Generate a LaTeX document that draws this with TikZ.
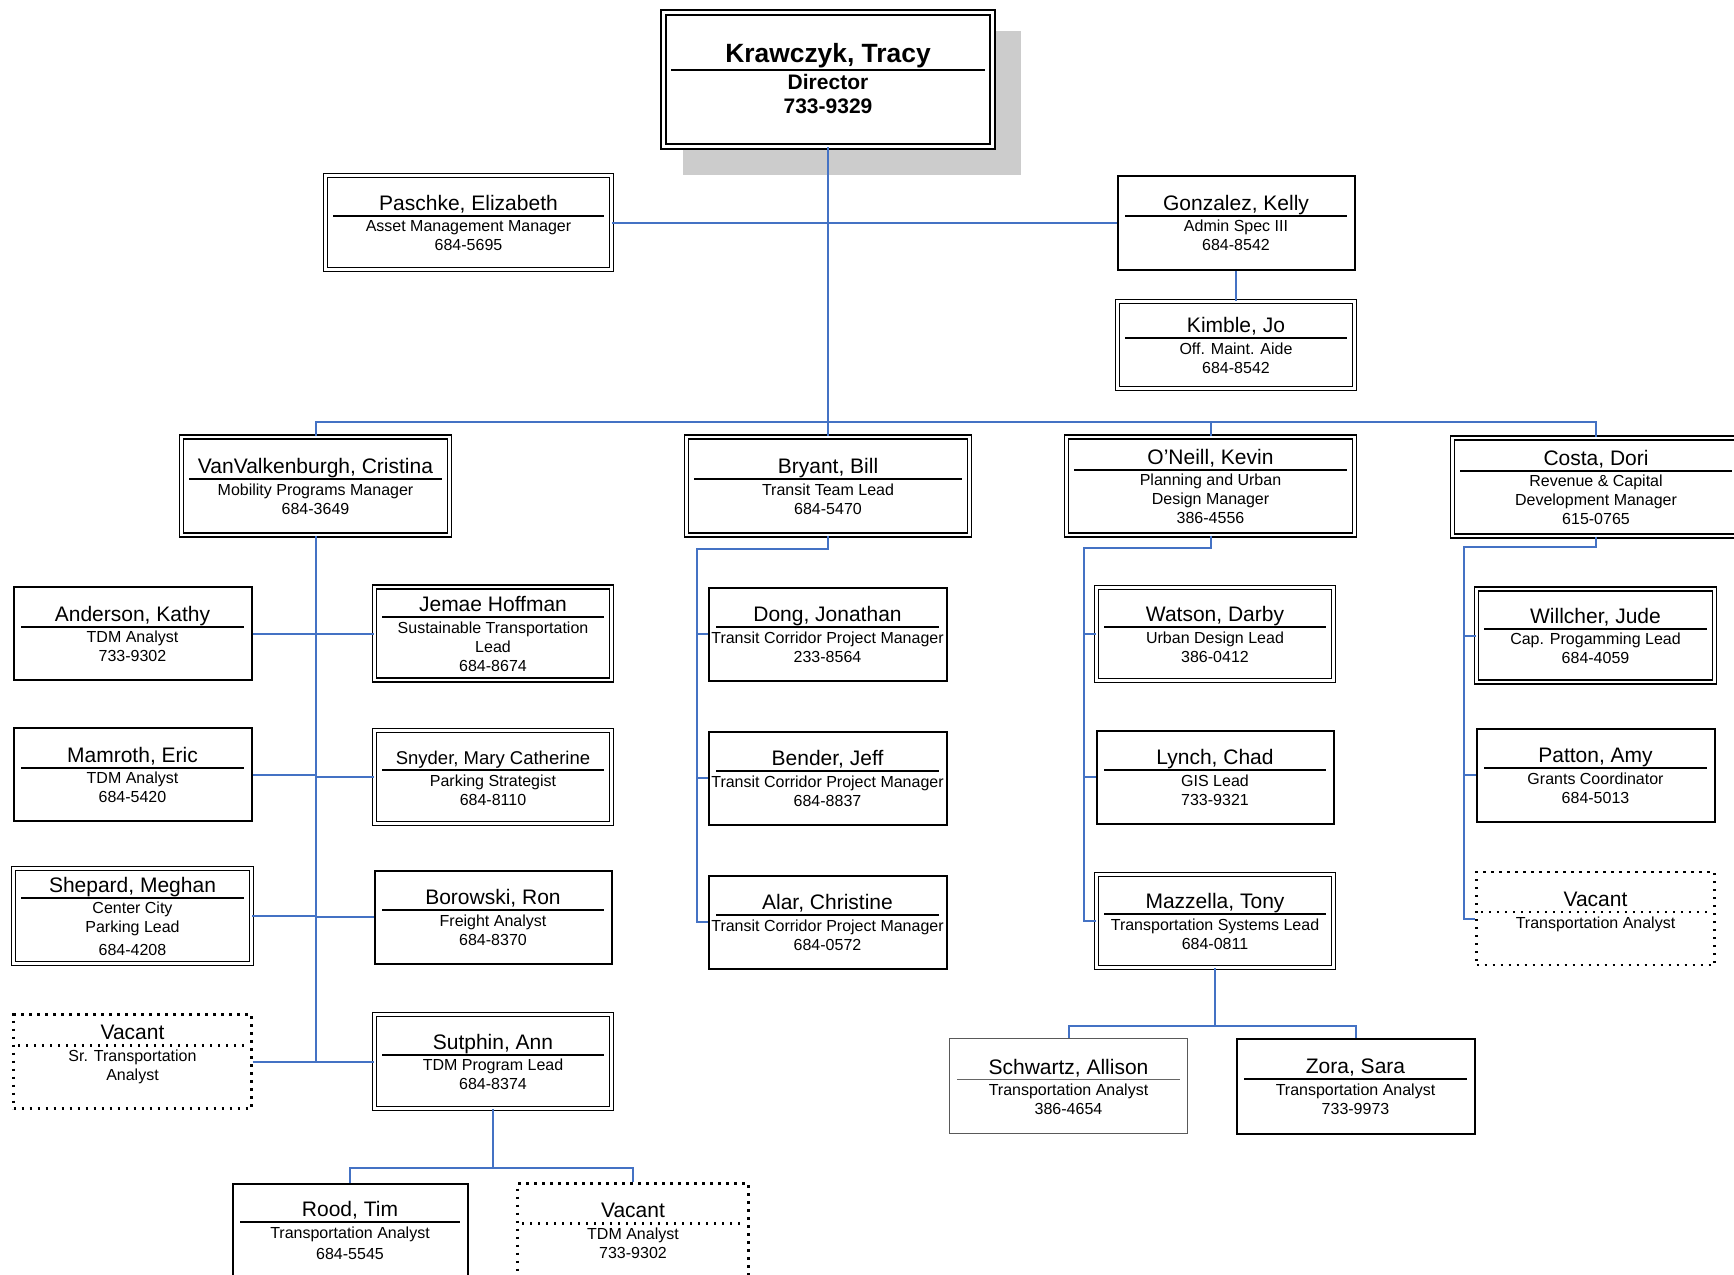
\documentclass[tikz,border=0pt]{standalone}
\usepackage{fontspec}
\setmainfont{Liberation Sans}
\usetikzlibrary{calc}
\definecolor{linkblue}{HTML}{4472C4}
\definecolor{shadowgray}{HTML}{CCCCCC}
\newlength\cardw
\newcommand{\namefont}{\fontsize{21pt}{24pt}\selectfont}
\newcommand{\detailfont}{\fontsize{16pt}{19pt}\selectfont}
\newcommand{\cardup}{22pt}
\newcommand{\cardgap}{4.5pt}
\newcommand{\cardskip}{-4pt}
\newcommand{\cardrule}{\hrule height 2pt}
\newcommand{\dotline}{\nointerlineskip\hbox to\hsize{\leaders\hbox to 8pt{\hss\vrule width 2.4pt height 2.4pt\hss}\hfill}}
\newcommand{\card}[2]{\parbox{\cardw}{\centering
  {\namefont\raisebox{0pt}[\cardup][0pt]{\makebox[0pt]{#1}}\par}
  \vspace{\cardgap}\cardrule\vspace{\cardskip}\prevdepth=0pt
  {\detailfont\leftskip=-15pt plus 1fil\rightskip=-15pt plus 1fil #2\strut\par}}}

\begin{document}
\begin{tikzpicture}[x=1pt, y=-1pt,
	card/.style={fill=white, inner sep=0pt, text=black, minimum width=#1-3pt, minimum height=93pt,
		/utils/exec={\pgfmathsetlength{\cardw}{#1-18pt}}},
	single/.style={card=#1, draw, line width=2pt},
	light/.style={card=#1, draw=black!65, line width=1pt,
		/utils/exec={\def\cardrule{{\color{black!60}\hrule height 1.5pt}}}},
	dbl/.style={card=#1, draw, double, line width=1.3pt, double distance=2.6pt},
	vacant/.style={card=#1, draw, line width=2.4pt, dash pattern=on 2.4pt off 5.6pt,
		/utils/exec={\pgfmathsetlength{\cardw}{#1-6pt}\let\cardrule\dotline}},
	chief/.style={card=332pt, minimum height=134pt, draw, double, line width=1.6pt, double distance=3.4pt,
		/utils/exec={\def\namefont{\fontsize{26.4pt}{30pt}\selectfont\bfseries}%
			\def\detailfont{\fontsize{21pt}{24pt}\selectfont\bfseries}%
			\def\cardup{23.7pt}\def\cardgap{6.5pt}\def\cardskip{-6pt}}},
	link/.style={draw=linkblue, line width=2pt}]
	\useasboundingbox (0,0) rectangle (1734,1274);
	\fill[shadowgray] (683,31) rectangle (1021,175);

	\node[chief] (dir) at (828,79.5) {\card{Krawczyk, Tracy}{Director\\733-9329}};
	\node[dbl=289pt, minimum height=94pt] (paschke) at (468.5,222.5) {\card{Paschke, Elizabeth}{Asset Management Manager\\684-5695}};
	\node[single=240pt, minimum height=94pt] (gonzalez) at (1236,222.5) {\card{Gonzalez, Kelly}{Admin Spec III\\684-8542}};
	\node[dbl=240pt, minimum height=87pt] (kimble) at (1236,345) {\card{Kimble, Jo}{Off. Maint. Aide\\684-8542}};

	\node[dbl=271pt, minimum height=98pt] (vanv) at (315.5,486) {\card{VanValkenburgh, Cristina}{Mobility Programs Manager\\684-3649}};
	\node[dbl=286pt, minimum height=98pt] (bryant) at (828,486) {\card{Bryant, Bill}{Transit Team Lead\\684-5470}};
	\node[dbl=291pt, minimum height=98pt] (oneill) at (1210.5,486) {\card{O’Neill, Kevin}{Planning and Urban\\Design Manager\\386-4556}};
	\node[dbl=290pt, minimum height=98pt] (costa) at (1596,487) {\card{Costa, Dori}{Revenue \& Capital\\Development Manager\\615-0765}};

	\node[single=241pt] (anderson) at (132.5,633.5) {\card{Anderson, Kathy}{TDM Analyst\\733-9302}};
	\node[single=241pt] (mamroth) at (132.5,774.5) {\card{Mamroth, Eric}{TDM Analyst\\684-5420}};
	\node[dbl=241pt, minimum height=95pt] (shepard) at (132.5,916) {\card{Shepard, Meghan}{Center City\\Parking Lead\\[4pt]684-4208}};
	\node[vacant=241pt, minimum height=94pt] (vacsr) at (132.5,1061.5) {\card{Vacant}{Sr. Transportation\\Analyst\\~}};

	\node[dbl=240pt] (hoffman) at (493,633.5) {\card{Jemae Hoffman}{Sustainable Transportation\\Lead\\684-8674}};
	\node[dbl=240pt] (snyder) at (493,777) {\card{\fontsize{18.5pt}{21pt}\selectfont Snyder, Mary Catherine}{Parking Strategist\\684-8110}};
	\node[single=240pt] (borowski) at (493,917) {\card{Borowski, Ron}{Freight Analyst\\684-8370}};
	\node[dbl=240pt, minimum height=94pt] (sutphin) at (493,1061.5) {\card{Sutphin, Ann}{TDM Program Lead\\684-8374}};

	\node[single=238pt] (rood) at (350,1230) {\card{Rood, Tim}{Transportation Analyst\\[2pt]684-5545}};
	\node[vacant=234pt] (vactdm) at (633,1230) {\card{Vacant}{TDM Analyst\\733-9302}};

	\node[single=241pt] (dong) at (827.5,634) {\card{Dong, Jonathan}{Transit Corridor Project Manager\\233-8564}};
	\node[single=241pt] (bender) at (827.5,778) {\card{Bender, Jeff}{Transit Corridor Project Manager\\684-8837}};
	\node[single=241pt] (alar) at (827.5,922) {\card{Alar, Christine}{Transit Corridor Project Manager\\684-0572}};

	\node[dbl=240pt] (watson) at (1215,634) {\card{Watson, Darby}{Urban Design Lead\\386-0412}};
	\node[single=240pt] (lynch) at (1215,777) {\card{Lynch, Chad}{GIS Lead\\733-9321}};
	\node[dbl=240pt] (mazzella) at (1215,921) {\card{Mazzella, Tony}{Transportation Systems Lead\\684-0811}};

	\node[light=241pt, minimum height=95pt] (schwartz) at (1068.5,1086) {\card{Schwartz, Allison}{Transportation Analyst\\386-4654}};
	\node[single=241pt, minimum height=95pt] (zora) at (1355.5,1086) {\card{Zora, Sara}{Transportation Analyst\\733-9973}};

	\node[dbl=241pt] (willcher) at (1595.5,635.5) {\card{Willcher, Jude}{Cap. Progamming Lead\\684-4059}};
	\node[single=241pt] (patton) at (1595.5,775) {\card{Patton, Amy}{Grants Coordinator\\684-5013}};
	\node[vacant=241pt] (vacta) at (1595.5,918.5) {\card{Vacant}{Transportation Analyst\\~}};

	\coordinate (bus) at (0,422);
	\draw[link] (dir) -- (bryant);
	\draw[link] (paschke) -- (gonzalez);
	\draw[link] (gonzalez) -- (kimble);
	\draw[link] (vanv.north) -- (vanv.north |- bus) -- (costa.north |- bus) -- (costa.north);
	\draw[link] (oneill.north) -- (oneill.north |- bus);

	\draw[link] (vanv.south) -- (vanv.south |- vacsr.east);
	\draw[link] (anderson) -- (hoffman);
	\draw[link] (vacsr) -- (sutphin);
	\foreach \n in {mamroth, shepard}
		\draw[link] (\n.east) -- (\n.east -| vanv.south);
	\foreach \n in {snyder, borowski}
		\draw[link] (\n.west) -- (\n.west -| vanv.south);
	\draw[link] (sutphin.south) -- ++(0,59) -| (rood.north);
	\draw[link] (sutphin.south) ++(0,59) -| (vactdm.north);

	\draw[link] (bryant.south) -- ++(0,13) -| ($(alar.west)+(-11,0)$) -- (alar.west);
	\foreach \n in {dong, bender}
		\draw[link] (\n.west) -- ++(-11,0);

	\draw[link] (oneill.south) -- ++(0,12) -| ($(mazzella.west)+(-12,0)$) -- (mazzella.west);
	\foreach \n in {watson, lynch}
		\draw[link] (\n.west) -- ++(-12,0);
	\draw[link] (mazzella.south) -- ++(0,58) -| (schwartz.north);
	\draw[link] (mazzella.south) ++(0,58) -| (zora.north);

	\draw[link] (costa.south) -- ++(0,10) -| ($(vacta.west)+(-11,0)$) -- (vacta.west);
	\foreach \n in {willcher, patton}
		\draw[link] (\n.west) -- ++(-11,0);
\end{tikzpicture}
\end{document}
